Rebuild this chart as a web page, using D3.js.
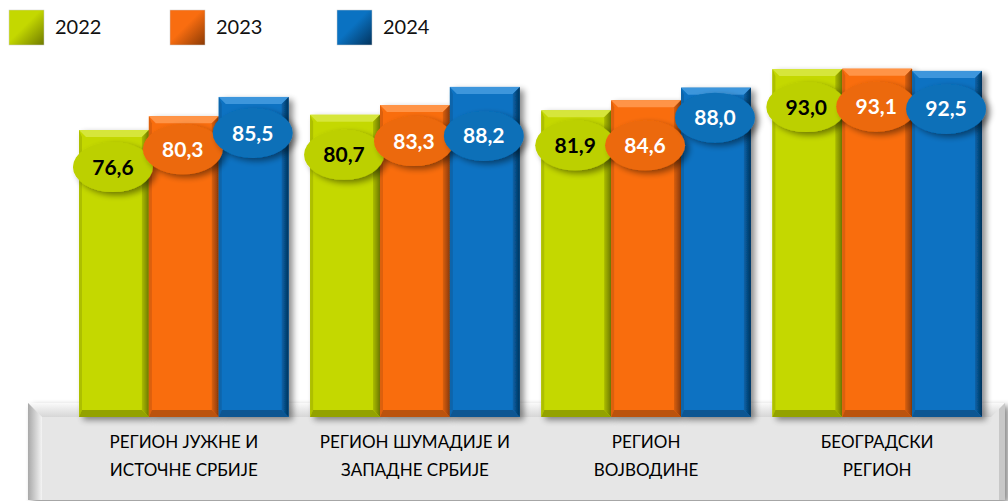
<!DOCTYPE html>
<html>
<head>
<meta charset="utf-8">
<script src="https://cdn.jsdelivr.net/npm/d3@7"></script>
<style>
  body { margin: 0; background: #fff; }
  svg { display: block; font-family: Lato, 'Open Sans', sans-serif; }
</style>
</head>
<body>
<div class="svgcontainer"></div>
<script>
const regions = [
  ['РЕГИОН ЈУЖНЕ И', 'ИСТОЧНЕ СРБИЈЕ'],
  ['РЕГИОН ШУМАДИЈЕ И', 'ЗАПАДНЕ СРБИЈЕ'],
  ['РЕГИОН', 'ВОЈВОДИНЕ'],
  ['БЕОГРАДСКИ', 'РЕГИОН'],
];
const years = ['2022', '2023', '2024'];
const values2022 = [76.6, 80.7, 81.9, 93.0];
const values2023 = [80.3, 83.3, 84.6, 93.1];
const values2024 = [85.5, 88.2, 88.0, 92.5];

// labels were nudged by hand in the original, px below the bar top
const labelNudge = [
  [37, 33, 36],
  [40, 36, 49],
  [35, 45, 30],
  [38, 38, 38],
];

const colors = {
  '2022': {base: '#c4d800', light: '#d6e63a', dark: '#6f7a00', label: '#bcd000', text: '#000'},
  '2023': {base: '#f96d10', light: '#ff9447', dark: '#8a3a05', label: '#ec690b', text: '#fff'},
  '2024': {base: '#0a72c2', light: '#3d96dc', dark: '#03335c', label: '#0a6fb8', text: '#fff'},
};

const data = regions.map((r, i) => ({
  key: i,
  lines: r,
  vals: [values2022[i], values2023[i], values2024[i]],
}));

const svg = d3
  .select('.svgcontainer')
  .append('svg')
  .attr('width', 1008)
  .attr('height', 501);

const defs = svg.append('defs');
const shadow = defs.append('filter').attr('id', 'shadow')
  .attr('x', '-20%').attr('y', '-20%').attr('width', '150%').attr('height', '150%');
shadow.append('feGaussianBlur').attr('in', 'SourceAlpha').attr('stdDeviation', 3);
shadow.append('feOffset').attr('dx', 4).attr('dy', 3).attr('result', 'ob');
shadow.append('feComponentTransfer').append('feFuncA').attr('type', 'linear').attr('slope', 0.45);
const mrg = shadow.append('feMerge');
mrg.append('feMergeNode');
mrg.append('feMergeNode').attr('in', 'SourceGraphic');

years.forEach(yr => {
  const c = colors[yr];
  const lg = defs.append('linearGradient').attr('id', 'leg' + yr)
    .attr('x1', 0).attr('y1', 0).attr('x2', 1).attr('y2', 1);
  lg.append('stop').attr('offset', '0.45').attr('stop-color', c.base);
  lg.append('stop').attr('offset', '1').attr('stop-color', c.dark);
  const rg = defs.append('linearGradient').attr('id', 'right' + yr)
    .attr('x1', 0).attr('y1', 0).attr('x2', 1).attr('y2', 0);
  rg.append('stop').attr('offset', '0').attr('stop-color', d3.color(c.base).darker(0.4));
  rg.append('stop').attr('offset', '1').attr('stop-color', c.dark);
});

const boxGrad = defs.append('linearGradient').attr('id', 'boxleft')
  .attr('x1', 0).attr('x2', 1).attr('y1', 0).attr('y2', 0);
boxGrad.append('stop').attr('offset', 0).attr('stop-color', '#a8a8a8');
boxGrad.append('stop').attr('offset', 1).attr('stop-color', '#f4f4f4');
const boxTop = defs.append('linearGradient').attr('id', 'boxtop')
  .attr('x1', 0).attr('x2', 0).attr('y1', 0).attr('y2', 1);
boxTop.append('stop').attr('offset', 0).attr('stop-color', '#fafafa');
boxTop.append('stop').attr('offset', 1).attr('stop-color', '#d6d6d6');

const y = d3.scaleLinear().domain([0, 100]).range([415, 43]);
const x0 = d3.scaleBand()
  .domain(data.map(d => d.key))
  .range([68.25, 992.75])
  .paddingInner(0.093)
  .paddingOuter(0.0465);
const x1 = d3.scaleBand().domain(years).range([0, x0.bandwidth()]);

// category floor box
const bx = 28, bw = 977, by = 403, bh = 97, bv = 14;
const box = svg.append('g');
box.append('rect').attr('x', bx).attr('y', by).attr('width', bw).attr('height', bh)
  .attr('fill', '#e6e6e6').attr('filter', 'url(#shadow)');
box.append('path')
  .attr('d', `M${bx},${by}L${bx + bw},${by}L${bx + bw - bv},${by + bv}L${bx + bv},${by + bv}Z`)
  .attr('fill', 'url(#boxtop)');
box.append('path')
  .attr('d', `M${bx},${by}L${bx + bv},${by + bv}L${bx + bv},${by + bh}L${bx},${by + bh}Z`)
  .attr('fill', 'url(#boxleft)');
box.append('path')
  .attr('d', `M${bx + bw},${by}L${bx + bw},${by + bh}L${bx + bw - 6},${by + bh}L${bx + bw - 6},${by + 6}Z`)
  .attr('fill', '#c8c8c8');

box.selectAll('text.cat')
  .data(data)
  .enter()
  .append('text')
  .attr('class', 'cat')
  .attr('text-anchor', 'middle')
  .attr('font-size', 17)
  .attr('fill', '#000')
  .each(function(d) {
    const t = d3.select(this);
    d.lines.forEach((ln, i) => {
      t.append('tspan')
        .attr('x', x0(d.key) + x0.bandwidth() / 2)
        .attr('y', 448 + i * 28)
        .text(ln);
    });
  });

// bars
const bev = 7;
const groups = svg.selectAll('.grp')
  .data(data)
  .enter()
  .append('g')
  .attr('class', 'grp')
  .attr('transform', d => `translate(${x0(d.key)},0)`);

const barData = d => d.vals.map((v, i) => ({year: years[i], value: v, nudge: labelNudge[d.key][i]}));

const bars = groups.selectAll('.bar')
  .data(barData)
  .enter()
  .append('g')
  .attr('class', 'bar')
  .attr('filter', 'url(#shadow)');

bars.each(function(d) {
  const g = d3.select(this);
  const c = colors[d.year];
  const xl = x1(d.year), w = x1.bandwidth(), yt = y(d.value), yb = y(0) + 2;
  const xr = xl + w;
  g.append('rect').attr('x', xl).attr('y', yt).attr('width', w).attr('height', yb - yt)
    .attr('fill', c.base);
  g.append('path')
    .attr('d', `M${xl},${yt}L${xr},${yt}L${xr - bev},${yt + bev}L${xl + bev},${yt + bev}Z`)
    .attr('fill', c.light);
  g.append('path')
    .attr('d', `M${xl},${yt}L${xl + 3},${yt + bev}L${xl + 3},${yb - bev}L${xl},${yb}Z`)
    .attr('fill', d3.color(c.base).darker(0.35));
  g.append('path')
    .attr('d', `M${xr},${yt}L${xr},${yb}L${xr - bev},${yb - bev}L${xr - bev},${yt + bev}Z`)
    .attr('fill', 'url(#right' + d.year + ')');
  g.append('path')
    .attr('d', `M${xl},${yb}L${xl + 3},${yb - bev}L${xr - bev},${yb - bev}L${xr},${yb}Z`)
    .attr('fill', d3.color(c.base).darker(0.8));
});

// value labels
const labels = groups.selectAll('.lbl')
  .data(barData)
  .enter()
  .append('g')
  .attr('class', 'lbl')
  .attr('transform', d => `translate(${x1(d.year) + x1.bandwidth() / 2 - 1},${y(d.value) + d.nudge})`);

labels.append('ellipse')
  .attr('rx', 40)
  .attr('ry', 25)
  .attr('fill', d => colors[d.year].label)
  .attr('filter', 'url(#shadow)');

labels.append('text')
  .attr('text-anchor', 'middle')
  .attr('dy', '0.36em')
  .attr('font-size', 21)
  .attr('font-weight', 'bold')
  .attr('fill', d => colors[d.year].text)
  .text(d => d3.format('.1f')(d.value).replace('.', ','));

// legend
const legX = [9, 170, 337];
const legend = svg.selectAll('.legend')
  .data(years)
  .enter()
  .append('g')
  .attr('class', 'legend')
  .attr('transform', (d, i) => `translate(${legX[i]},10)`);

legend.append('rect')
  .attr('width', 35)
  .attr('height', 35)
  .attr('fill', d => 'url(#leg' + d + ')')
  .attr('stroke', '#ccc')
  .attr('stroke-width', 0.5);

legend.append('text')
  .attr('x', 46)
  .attr('y', 24)
  .attr('font-size', 20)
  .attr('fill', '#111')
  .text(d => d);
</script>
</body>
</html>
